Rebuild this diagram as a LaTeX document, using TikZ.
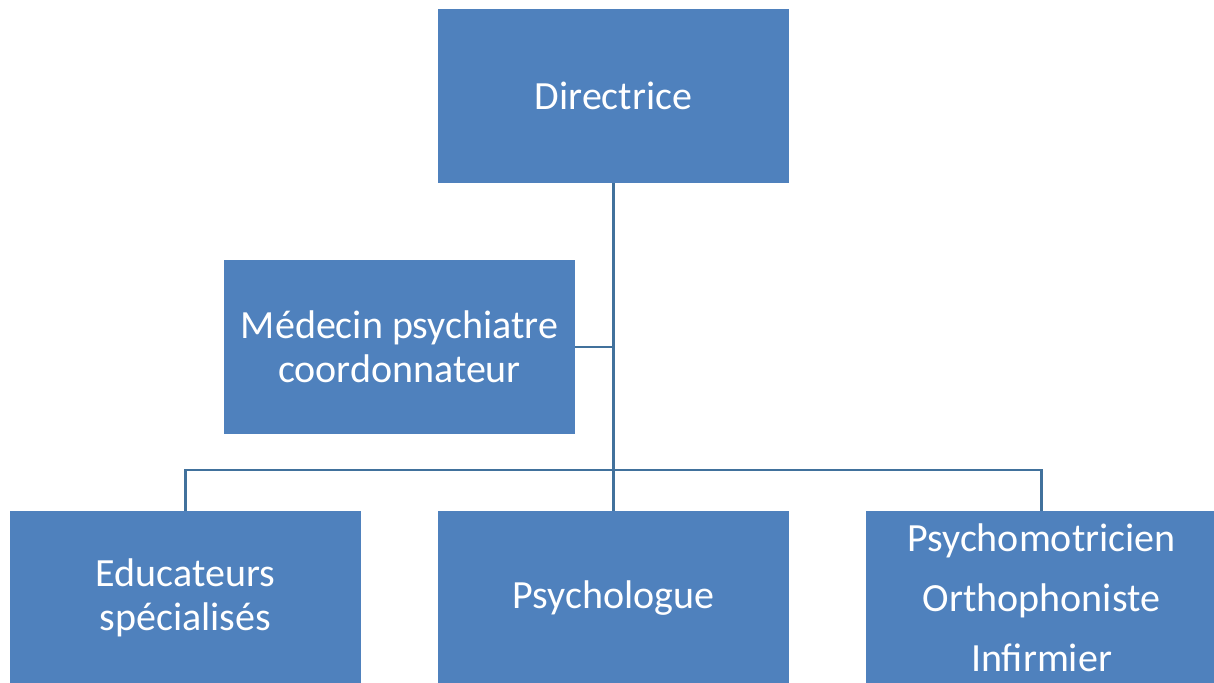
\documentclass[tikz,border=0pt]{standalone}
\usepackage{fontspec}
\setmainfont{Carlito}
\definecolor{boxblue}{HTML}{4F81BD}
\definecolor{lineblue}{HTML}{41719C}
\begin{document}
\begin{tikzpicture}[x=1pt,y=-1pt,
    link/.style={draw=lineblue,line width=2.6pt}]

      \useasboundingbox (0,0) rectangle (1214,682);
      \clip (0,0) rectangle (1214,682);

      \begin{scope}[every node/.style={rectangle,fill=boxblue,text=white,
          minimum width=351pt,minimum height=174pt,inner sep=0pt,
          align=center,font=\fontsize{40}{44}\selectfont}]
        \node (dir) at (613.5,96)  {Directrice};
        \node (med) at (399.5,347) {Médecin psychiatre\\coordonnateur};
        \node (edu) at (185.5,598) {Educateurs\\spécialisés};
        \node (psy) at (613.5,598) {Psychologue};
        \node (inf) at (1041.5,598) {Psychomotricien\\[16pt]Orthophoniste\\[16pt]Infirmier};
      \end{scope}

      \coordinate (bar) at (613.5,470);

      \path[link] (dir) -- (psy);
      \path[link] (med) -- (med -| dir);
      \path[link] (edu) |- (bar) -| (inf);

    \end{tikzpicture}
\end{document}
